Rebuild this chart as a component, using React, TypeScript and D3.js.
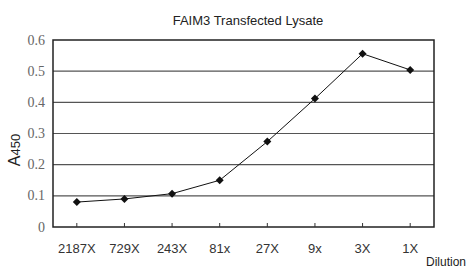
import React, { useRef, useEffect } from "react";
import * as d3 from "d3";

const categories = ["2187X", "729X", "243X", "81x", "27X", "9x", "3X", "1X"];
const values = [0.08, 0.09, 0.107, 0.15, 0.274, 0.412, 0.556, 0.504];
const yTicks = [0, 0.1, 0.2, 0.3, 0.4, 0.5, 0.6];

const App = () => {
  const svgRef = useRef<SVGSVGElement>(null);

  useEffect(() => {
    const svg = d3.select(svgRef.current);
    svg.selectAll("*").remove();

    const width = 470;
    const height = 268;
    const margin = { top: 40, right: 36, bottom: 41, left: 53 };

    const x = d3
      .scaleBand()
      .domain(categories)
      .range([margin.left, width - margin.right]);

    const y = d3
      .scaleLinear()
      .domain([0, 0.6])
      .range([height - margin.bottom, margin.top]);

    // gridlines
    svg
      .append("g")
      .selectAll("line")
      .data(yTicks.slice(1, -1))
      .enter()
      .append("line")
      .attr("x1", margin.left)
      .attr("x2", width - margin.right)
      .attr("y1", (d) => y(d))
      .attr("y2", (d) => y(d))
      .attr("stroke", "#555")
      .attr("stroke-width", 1.2);

    // frame
    svg
      .append("rect")
      .attr("x", margin.left)
      .attr("y", margin.top)
      .attr("width", width - margin.left - margin.right)
      .attr("height", height - margin.top - margin.bottom)
      .attr("fill", "none")
      .attr("stroke", "#222")
      .attr("stroke-width", 1.5);

    // y tick labels
    svg
      .append("g")
      .selectAll("text")
      .data(yTicks)
      .enter()
      .append("text")
      .attr("x", margin.left - 8)
      .attr("y", (d) => y(d) + 4.5)
      .attr("text-anchor", "end")
      .attr("font-family", "Times New Roman, Liberation Serif, DejaVu Serif, serif")
      .attr("font-size", 14)
      .attr("fill", "#666")
      .text((d) => (d === 0 ? "0" : d.toFixed(1)));

    // x ticks (inside)
    const cx = (c: string) => (x(c) as number) + x.bandwidth() / 2;
    svg
      .append("g")
      .selectAll("line")
      .data(categories)
      .enter()
      .append("line")
      .attr("x1", cx)
      .attr("x2", cx)
      .attr("y1", y(0))
      .attr("y2", y(0) - 4)
      .attr("stroke", "#333");

    svg
      .append("g")
      .selectAll("text")
      .data(categories)
      .enter()
      .append("text")
      .attr("x", cx)
      .attr("y", 253)
      .attr("text-anchor", "middle")
      .attr("font-family", "Liberation Sans, Arial, sans-serif")
      .attr("font-size", 13)
      .attr("fill", "#333")
      .text((d) => d);

    // line
    const line = d3
      .line<number>()
      .x((d, i) => cx(categories[i]))
      .y((d) => y(d));

    svg
      .append("path")
      .datum(values)
      .attr("d", line)
      .attr("fill", "none")
      .attr("stroke", "#111")
      .attr("stroke-width", 1);

    svg
      .append("g")
      .selectAll("path")
      .data(values)
      .enter()
      .append("path")
      .attr("d", d3.symbol(d3.symbolSquare, 32))
      .attr(
        "transform",
        (d, i) => `translate(${cx(categories[i])},${y(d)}) rotate(45)`
      )
      .attr("fill", "#111");

    // title
    svg
      .append("text")
      .attr("x", 248)
      .attr("y", 25)
      .attr("text-anchor", "middle")
      .attr("font-family", "Liberation Sans, Arial, sans-serif")
      .attr("font-size", 13)
      .attr("fill", "#222")
      .text("FAIM3 Transfected Lysate");

    // y label
    const yl = svg
      .append("text")
      .attr("transform", "translate(20,150) rotate(-90)")
      .attr("text-anchor", "middle")
      .attr("font-family", "Liberation Sans, Arial, sans-serif")
      .attr("fill", "#222");
    yl.append("tspan").attr("font-size", 16).text("A");
    yl.append("tspan").attr("font-size", 13).text("450");

    // x label
    svg
      .append("text")
      .attr("x", 426)
      .attr("y", 266)
      .attr("font-family", "Liberation Sans, Arial, sans-serif")
      .attr("font-size", 12)
      .attr("fill", "#222")
      .text("Dilution");
  }, []);

  return (
    <div style={{ position: "fixed", left: 0, top: 0, background: "#fff" }}>
      <svg ref={svgRef} width={470} height={268} style={{ display: "block" }}></svg>
    </div>
  );
};

export default App;
